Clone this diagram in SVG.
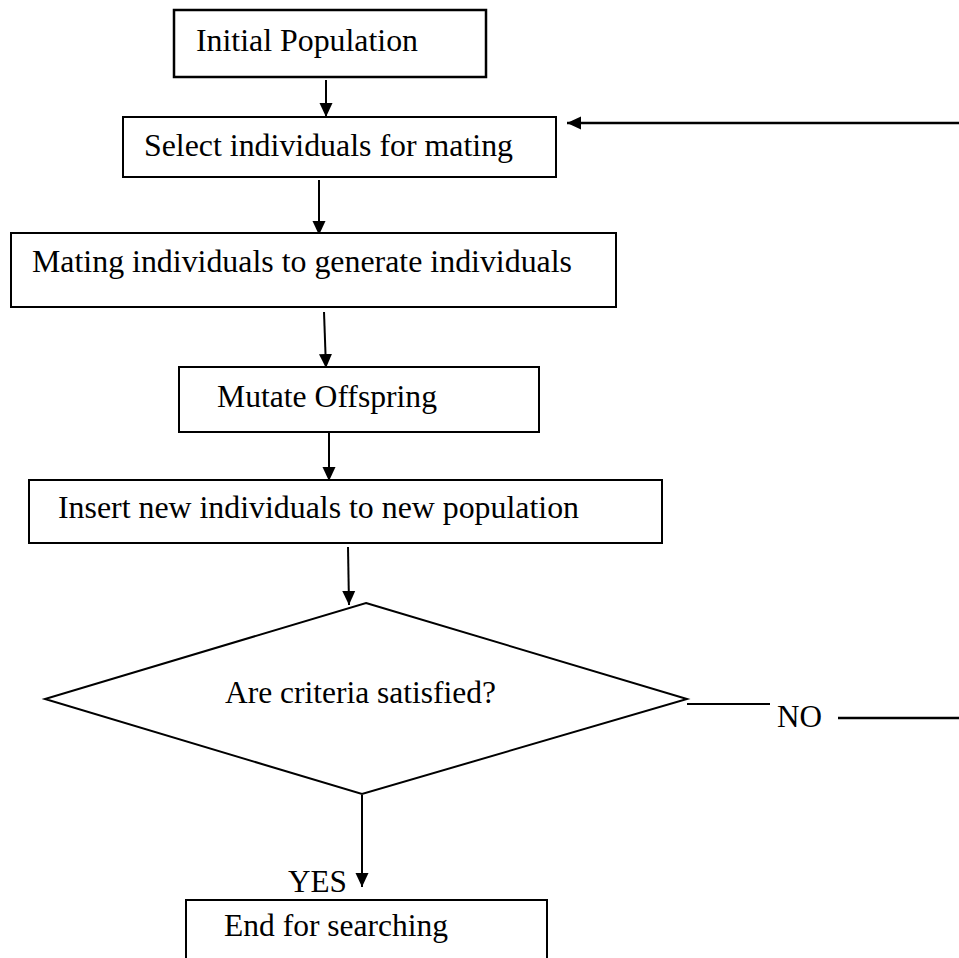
<svg xmlns="http://www.w3.org/2000/svg" width="959" height="958" viewBox="0 0 959 958">
<style>
.box{fill:#fff;stroke:#000;stroke-width:2}
.t{font-family:"Liberation Serif","Times New Roman",serif;font-size:31px;fill:#000}
.c{fill:none;stroke:#000;stroke-width:2}
</style>
<defs>
<marker id="ah" markerUnits="userSpaceOnUse" markerWidth="14" markerHeight="14" refX="14" refY="7" orient="auto">
<path d="M0,0.5 L14,7 L0,13.5 z" fill="#000"/>
</marker>
</defs>
<rect width="959" height="958" fill="#fff"/>
<g id="connectors">
<line class="c" x1="326" y1="80" x2="326" y2="117" marker-end="url(#ah)"/>
<line class="c" x1="319" y1="180" x2="319" y2="235" marker-end="url(#ah)"/>
<line class="c" x1="324" y1="312" x2="326" y2="368" marker-end="url(#ah)"/>
<line class="c" x1="329" y1="433" x2="329" y2="481" marker-end="url(#ah)"/>
<line class="c" x1="348" y1="547" x2="349" y2="605" marker-end="url(#ah)"/>
<line class="c" x1="362" y1="795" x2="362" y2="887" marker-end="url(#ah)"/>
<line class="c" x1="687" y1="704" x2="770" y2="704"/>
<line class="c" x1="838" y1="718" x2="959" y2="718" style="stroke-width:2.5"/>
<line class="c" x1="959" y1="123" x2="567" y2="123" style="stroke-width:2.5" marker-end="url(#ah)"/>
<text class="t" x="777" y="727" textLength="45" lengthAdjust="spacingAndGlyphs">NO</text>
<text class="t" x="288" y="892" textLength="59" lengthAdjust="spacingAndGlyphs">YES</text>
</g>
<g id="n1">
<rect class="box" x="174" y="10" width="312" height="67" style="stroke-width:2.5"/>
<text class="t" x="196" y="51" textLength="222" lengthAdjust="spacingAndGlyphs">Initial Population</text>
</g>
<g id="n2">
<rect class="box" x="123" y="117" width="433" height="60"/>
<text class="t" x="144" y="156" textLength="369" lengthAdjust="spacingAndGlyphs">Select individuals for mating</text>
</g>
<g id="n3">
<rect class="box" x="11" y="233" width="605" height="74"/>
<text class="t" x="32" y="272" textLength="540" lengthAdjust="spacingAndGlyphs">Mating individuals to generate individuals</text>
</g>
<g id="n4">
<rect class="box" x="179" y="367" width="360" height="65"/>
<text class="t" x="217" y="407" textLength="220" lengthAdjust="spacingAndGlyphs">Mutate Offspring</text>
</g>
<g id="n5">
<rect class="box" x="29" y="480" width="633" height="63"/>
<text class="t" x="58" y="518" textLength="521" lengthAdjust="spacingAndGlyphs">Insert new individuals to new population</text>
</g>
<g id="n6">
<polygon class="box" points="366,603 687,699 362,794 45,699"/>
<text class="t" x="225" y="703" textLength="271" lengthAdjust="spacingAndGlyphs">Are criteria satisfied?</text>
</g>
<g id="n7">
<rect class="box" x="186" y="900" width="361" height="70"/>
<text class="t" x="224" y="936" textLength="224" lengthAdjust="spacingAndGlyphs">End for searching</text>
</g>
</svg>
